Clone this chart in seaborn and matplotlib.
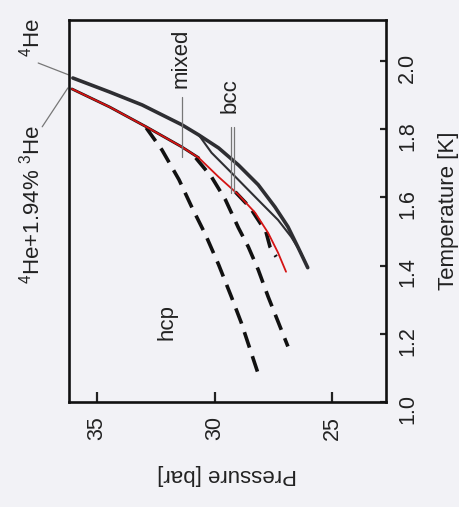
import matplotlib
matplotlib.use('Agg')
import matplotlib.pyplot as plt
import seaborn as sns

# outer 4He melting curve
he4_p = [36.01, 34.45, 33.07, 31.39, 30.67, 29.83, 28.99, 28.15, 27.44, 26.89, 26.47, 26.05]
he4_t = [1.950, 1.909, 1.871, 1.813, 1.783, 1.745, 1.695, 1.637, 1.572, 1.514, 1.455, 1.394]

# inner branch (bcc pocket)
bcc_p = [30.67, 30.13, 29.41, 28.70, 28.03, 27.31, 26.76, 26.34, 26.05]
bcc_t = [1.783, 1.731, 1.681, 1.631, 1.584, 1.534, 1.485, 1.438, 1.394]

# 4He + 1.94% 3He melting curve (red fit)
mix_p = [36.05, 34.45, 32.90, 31.39, 30.67, 29.83, 28.99, 28.28, 27.73, 27.31, 26.97]
mix_t = [1.918, 1.865, 1.807, 1.748, 1.716, 1.660, 1.608, 1.555, 1.496, 1.438, 1.382]

# black data under the red curve
mixdat_p = [36.05, 34.45, 32.90, 31.39, 30.67]
mixdat_t = [1.918, 1.865, 1.807, 1.748, 1.716]

# dashed hcp paths
path_a_p = [32.90, 32.23, 31.51, 30.97, 30.38, 29.83, 29.29, 28.87, 28.07]
path_a_t = [1.804, 1.739, 1.652, 1.572, 1.490, 1.403, 1.309, 1.233, 1.066]
path_b_p = [30.80, 30.13, 29.54, 28.99, 28.57, 28.15, 27.73, 27.31, 26.89]
path_b_t = [1.716, 1.660, 1.593, 1.511, 1.455, 1.388, 1.309, 1.236, 1.163]
path_c_p = [29.12, 28.49, 28.24, 27.82, 27.65, 27.39]
path_c_t = [1.616, 1.570, 1.543, 1.499, 1.455, 1.426]

p_ticks = [35, 30, 25]
t_ticks = [1.0, 1.2, 1.4, 1.6, 1.8, 2.0]

bg = '#f2f2f6'
ink = '#2e2e32'

sns.set_theme(style='white', rc={'axes.facecolor': bg, 'figure.facecolor': bg})
plt.rcParams['font.family'] = ['Liberation Sans', 'DejaVu Sans']
plt.rcParams['mathtext.fontset'] = 'custom'
plt.rcParams['mathtext.rm'] = 'Liberation Sans'
plt.rcParams['mathtext.it'] = 'Liberation Sans:italic'

fig = plt.figure(figsize=(4.59, 5.07), dpi=100)
ax = fig.add_axes([0.150, 0.207, 0.691, 0.7535])

dash = (0, (4.5, 2.5))
for px, ty in [(path_a_p, path_a_t), (path_b_p, path_b_t), (path_c_p, path_c_t)]:
    sns.lineplot(x=px, y=ty, sort=False, ax=ax, color='#111', lw=2.6, linestyle=dash)
sns.lineplot(x=mixdat_p, y=mixdat_t, sort=False, ax=ax, color='#111', lw=2.0)
sns.lineplot(x=mix_p, y=mix_t, sort=False, ax=ax, color='#d41414', lw=1.3)
sns.lineplot(x=he4_p, y=he4_t, sort=False, ax=ax, color=ink, lw=2.6)
sns.lineplot(x=bcc_p, y=bcc_t, sort=False, ax=ax, color=ink, lw=1.5)

ax.set_xlim(36.18, 22.73)
ax.set_ylim(1.0, 2.12)
ax.set_xticks(p_ticks)
ax.set_xticklabels([str(v) for v in p_ticks])
ax.set_yticks(t_ticks)
ax.set_yticklabels([f'{v:.1f}' for v in t_ticks])

ax.yaxis.tick_right()
ax.yaxis.set_label_position('right')
ax.tick_params(axis='x', direction='in', length=7.5, width=1.6, bottom=True, top=False,
               labelrotation=90, pad=10, labelsize=15.5, colors='#222')
ax.tick_params(axis='y', direction='in', length=4.5, width=1.6, right=True, left=False,
               labelright=True, labelleft=False, labelrotation=90, pad=8, labelsize=15.5, colors='#222')
for s in ax.spines.values():
    s.set_linewidth(1.9)
    s.set_color('#111')

ax.set_xlabel('Pressure [bar]', rotation=180, fontsize=16, labelpad=17, color='#222')
ax.set_ylabel('Temperature [K]', rotation=90, fontsize=16, labelpad=14, color='#222')

# annotations
lab = dict(rotation=90, ha='center', va='center', fontsize=16, color='#222')
ax.text(31.43, 2.009, 'mixed', **lab)
ax.text(29.33, 1.900, 'bcc', **lab)
ax.text(32.02, 1.236, 'hcp', **lab)
ax.text(37.78, 2.070, r'$^{4}$He', clip_on=False, **lab)
ax.text(37.78, 1.578, r'$^{4}$He+1.94% $^{3}$He', clip_on=False, **lab)

ptr = dict(color='#777', lw=0.9)
ax.plot([31.39, 31.39], [1.895, 1.719], **ptr)
ax.plot([29.29, 29.29], [1.807, 1.613], **ptr)
ax.plot([29.16, 29.16], [1.807, 1.613], **ptr)
ax.plot([37.48, 36.18], [1.994, 1.959], clip_on=False, **ptr)
ax.plot([37.31, 36.22], [1.807, 1.921], clip_on=False, **ptr)

fig.savefig('out.png', dpi=100, facecolor=bg)
